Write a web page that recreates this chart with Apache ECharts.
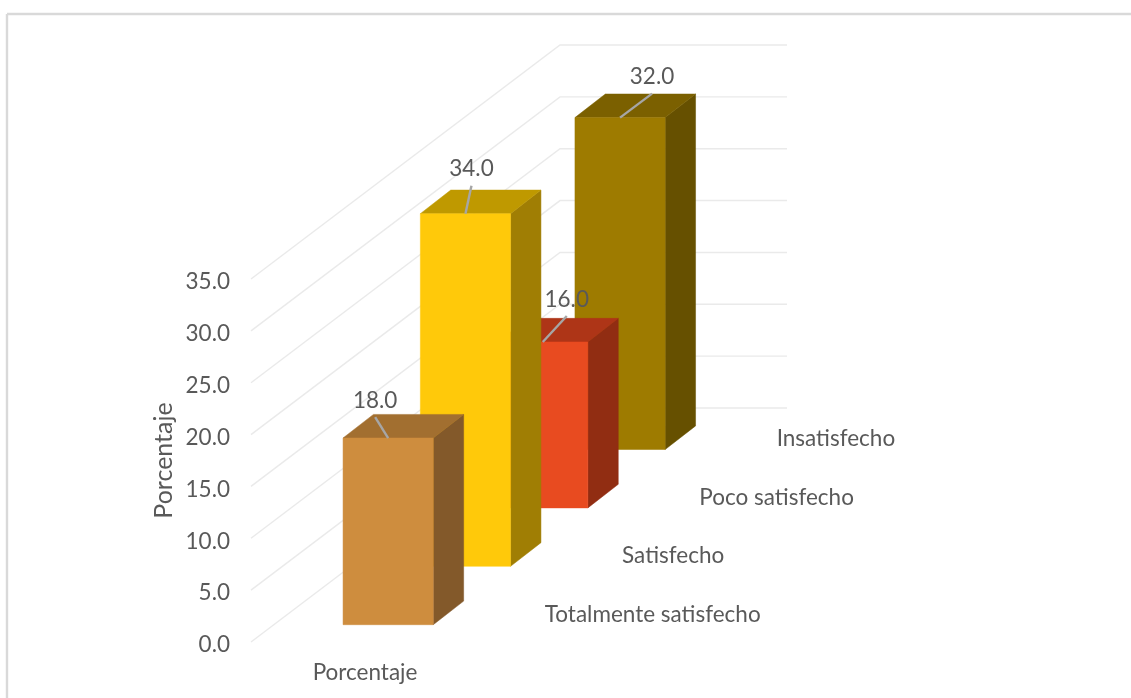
<!DOCTYPE html>
<html>
<head>
<meta charset="utf-8">
<style>html,body{margin:0;padding:0;background:#fff}#c{width:1131px;height:698px}</style>
<script src="https://cdn.jsdelivr.net/npm/echarts@6/dist/echarts.min.js"></script>
</head>
<body>
<div id="c"></div>
<script>
// ---- data ----
const categories = ['Totalmente satisfecho', 'Satisfecho', 'Poco satisfecho', 'Insatisfecho'];
const values = [18, 34, 16, 32];
const yTicks = [0, 5, 10, 15, 20, 25, 30, 35];
const seriesName = 'Porcentaje';
const axisTitle = 'Porcentaje';

// ---- styles / layout ----
const faceColors = [
  { front: '#CE8D3E', top: '#A26F30', side: '#83592A' },
  { front: '#FFC90A', top: '#BF9900', side: '#A07E04' },
  { front: '#E84B20', top: '#AE3517', side: '#912D12' },
  { front: '#9E7B00', top: '#7B6000', side: '#665000' }
];
const leaderOffsets = [[-13, -21], [6, -28], [24, -26], [32, -24]];
const FONT = 'Lato, Carlito, sans-serif';
const TEXT = '#595959';
const FS = 22.5;
const BAR_W = 90.2, DEPTH_X = 30.4, DEPTH_Y = -23.6;
const STEP_Y = -58.4, FIRST_LIFT = -17.3;
const WALL_LEFT_SHIFT = 98.5, WALL_DX = 309, WALL_DY = -234, WALL_BACK = 227;

const chart = echarts.init(document.getElementById('c'), null, { renderer: 'canvas' });

function poly(points, fill, z2) {
  return { type: 'polygon', shape: { points }, style: { fill, stroke: fill, lineWidth: 0.5 }, z2, silent: true };
}

function renderBar(params, api) {
  const i = api.value(0);
  const v = api.value(1);
  const lift = FIRST_LIFT + STEP_Y * i;
  const base = api.coord([i, 0]);
  const head = api.coord([i, v]);
  const xl = base[0] - BAR_W / 2, xr = base[0] + BAR_W / 2, xc = base[0];
  const yb = base[1] + lift, yt = head[1] + lift;
  const z = (4 - i) * 10;
  const c = faceColors[i];
  const lo = leaderOffsets[i];
  return {
    type: 'group',
    children: [
      poly([[xr, yb], [xr + DEPTH_X, yb + DEPTH_Y], [xr + DEPTH_X, yt + DEPTH_Y], [xr, yt]], c.side, z),
      poly([[xl, yt], [xr, yt], [xr + DEPTH_X, yt + DEPTH_Y], [xl + DEPTH_X, yt + DEPTH_Y]], c.top, z),
      poly([[xl, yb], [xr, yb], [xr, yt], [xl, yt]], c.front, z + 1),
      { type: 'line', shape: { x1: xc + lo[0], y1: yt + lo[1], x2: xc, y2: yt }, style: { stroke: '#A6A6A6', lineWidth: 2.4 }, z2: 100, silent: true },
      { type: 'text', x: xc + lo[0], y: yt + lo[1] - 16.5, style: { text: v.toFixed(1), fill: TEXT, font: FS + 'px ' + FONT, textAlign: 'center', textVerticalAlign: 'middle' }, z2: 101, silent: true },
      { type: 'text', x: xc + 156.6, y: yb - 10.4, style: { text: categories[i], fill: TEXT, font: FS + 'px ' + FONT, textAlign: 'left', textVerticalAlign: 'middle' }, z2: 101, silent: true }
    ]
  };
}

function renderWall(params, api) {
  const p = api.coord([0, api.value(0)]);
  const x0 = params.coordSys.x - WALL_LEFT_SHIFT, y0 = p[1];
  return {
    type: 'polyline',
    shape: { points: [[x0, y0], [x0 + WALL_DX, y0 + WALL_DY], [x0 + WALL_DX + WALL_BACK, y0 + WALL_DY]] },
    style: { stroke: '#EAEAEA', lineWidth: 1.4, fill: null },
    silent: true
  };
}

chart.setOption({
  animation: false,
  backgroundColor: '#fff',
  textStyle: { fontFamily: FONT },
  grid: { left: 349.5, width: 309.2, top: 279, height: 363 },
  xAxis: { type: 'category', data: categories, show: false },
  yAxis: {
    type: 'value', min: 0, max: 35, interval: 5, offset: WALL_LEFT_SHIFT,
    name: axisTitle, nameLocation: 'middle', nameGap: 75,
    nameTextStyle: { color: TEXT, fontSize: 25, fontFamily: FONT },
    axisLine: { show: false }, axisTick: { show: false }, splitLine: { show: false },
    axisLabel: { color: TEXT, fontSize: FS, fontFamily: FONT, margin: 21, verticalAlign: 'top', lineHeight: 6, formatter: v => v.toFixed(1) }
  },
  graphic: [
    { type: 'line', shape: { x1: 7, y1: 14, x2: 1131, y2: 14 }, style: { stroke: '#D9D9D9', lineWidth: 2.4 }, silent: true },
    { type: 'line', shape: { x1: 7, y1: 14, x2: 7, y2: 698 }, style: { stroke: '#D9D9D9', lineWidth: 2.4 }, silent: true },
    { type: 'text', x: 365, y: 672.5, style: { text: seriesName, fill: TEXT, font: FS + 'px ' + FONT, textAlign: 'center', textVerticalAlign: 'middle' }, silent: true }
  ],
  series: [
    { type: 'custom', z: 1, renderItem: renderWall, data: yTicks.map(t => [t]), encode: { y: 0 }, clip: false, silent: true },
    { type: 'custom', name: seriesName, z: 2, renderItem: renderBar, data: values.map((v, i) => [i, v]), encode: { x: 0, y: 1 }, clip: false, silent: true }
  ]
});
</script>
</body>
</html>
